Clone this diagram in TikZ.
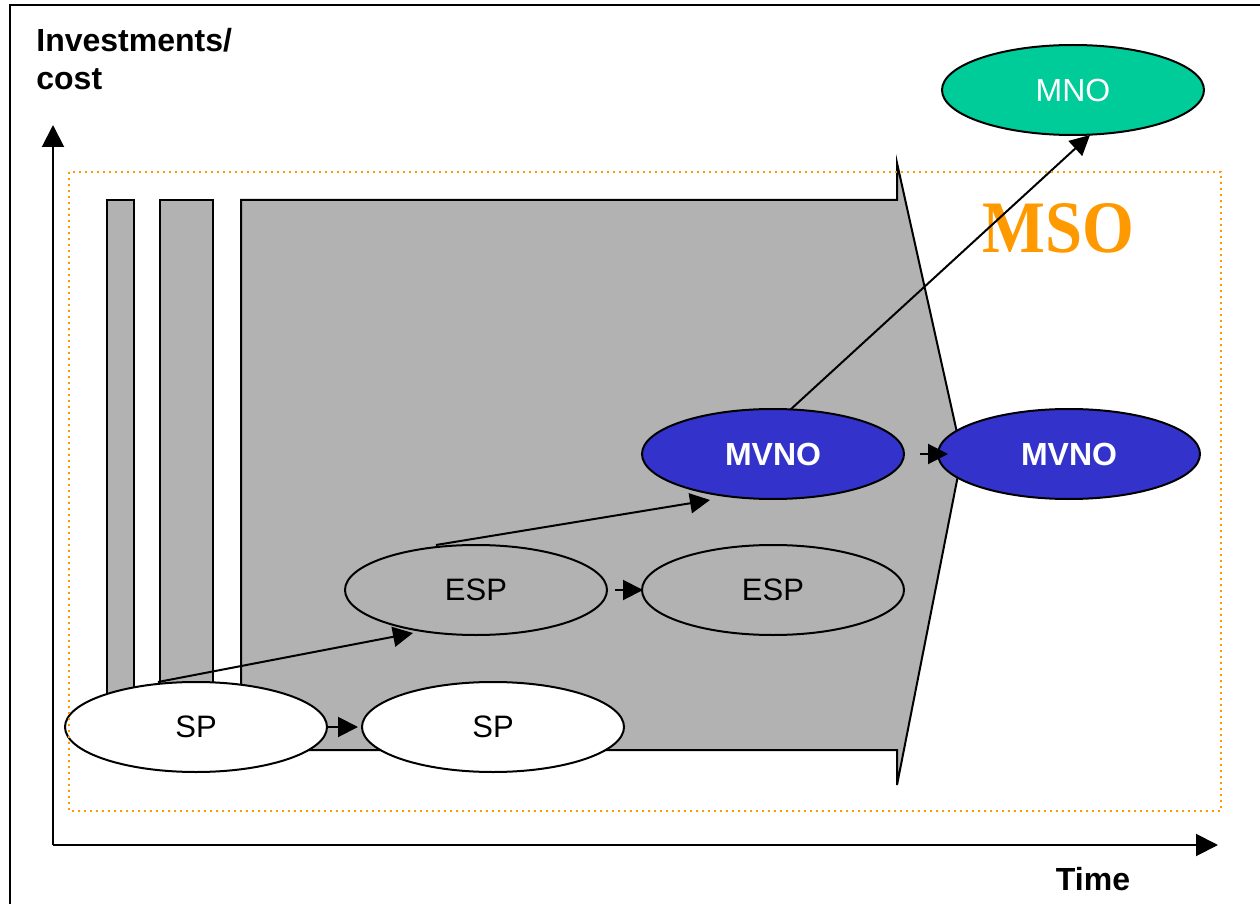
\documentclass[tikz,border=0pt]{standalone}
\usepackage{fontspec}
\setmainfont{Liberation Sans}
\newfontfamily\serifbold{Liberation Serif}
\usetikzlibrary{arrows.meta,shapes.geometric,calc}
\definecolor{greyfill}{HTML}{B2B2B2}
\definecolor{mvnoblue}{HTML}{3333CC}
\definecolor{mnogreen}{HTML}{00CC99}
\definecolor{msoorange}{HTML}{FF9900}
\tikzset{
  oval/.style={ellipse, draw=black, line width=1pt, minimum width=131pt, minimum height=45pt, inner sep=0pt, font=\fontsize{15.5}{18}\selectfont},
  whiteoval/.style={oval, fill=white},
  greyoval/.style={oval, fill=greyfill},
  blueoval/.style={oval, fill=mvnoblue, text=white, font=\fontsize{16}{18}\selectfont\bfseries},
  greenoval/.style={oval, fill=mnogreen, text=white, font=\fontsize{16}{18}\selectfont},
  conn/.style={line width=1pt, -{Triangle[length=10pt,width=10pt]}},
  axis/.style={line width=1pt, -{Triangle[length=11pt,width=11pt]}},
  greyshape/.style={fill=greyfill, draw=black, line width=1pt},
  axislabel/.style={font=\fontsize{16}{19}\selectfont\bfseries, inner sep=0pt}
}
\begin{document}
\begin{tikzpicture}[x=0.5pt,y=-0.5pt]
\useasboundingbox (0,0) rectangle (1260,904);
\fill[white] (0,0) rectangle (1260,904);
% outer frame
\draw[line width=1pt] (10,5) rectangle (1264,910);
% grey bars and big arrow shape
\draw[greyshape] (107,740) -- (107,200) -- (134,200) -- (134,740);
\draw[greyshape] (160,740) -- (160,200) -- (213,200) -- (213,740);
\draw[greyshape, line join=miter] (241,200) -- (897,200) -- (897,163) -- (962,455) -- (897,785) -- (897,750) -- (241,750) -- cycle;
% axes
\coordinate (origin) at (53,845);
\coordinate (ytip) at (53,125);
\coordinate (xtip) at (1218,845);
\draw[axis] (origin) -- (ytip);
\draw[axis] (origin) -- (xtip);
\node[axislabel, anchor=north west, align=left] (ylabel) at (36,28) {Investments/\\cost};
\node[axislabel, anchor=base] (xlabel) at (1093,890) {Time};
% ellipses
\node[whiteoval] (sp1) at (196,727) {SP};
\node[whiteoval] (sp2) at (493,727) {SP};
\node[greyoval] (esp1) at (476,590) {ESP};
\node[greyoval] (esp2) at (773,590) {ESP};
\node[blueoval] (mvno1) at (773,454) {MVNO};
\node[blueoval] (mvno2) at (1069,454) {MVNO};
\node[greenoval] (mno) at (1073,90) {MNO};
% MSO label
\node[text=msoorange, inner sep=0pt, anchor=base, xscale=0.9, font=\fontsize{37}{40}\selectfont\serifbold\bfseries] (mso) at (1058,252) {MSO};
% connectors
\draw[conn] (sp1.east) -- ($(sp2.west)+(-3,0)$);
\draw[conn] ($(esp1.east)+(7,0)$) -- ($(esp2.west)+(2,0)$);
\draw[conn] ($(mvno1.east)+(15,0)$) -- ($(mvno2.west)+(11,0)$);
\draw[conn] ($(sp1.center)+(-38,-45)$) -- ($(esp1.center)+(-63,43)$);
\draw[conn] ($(esp1.center)+(-40,-45)$) -- ($(mvno1.center)+(-63,46)$);
\draw[conn] ($(mvno1.center)+(17,-44)$) -- ($(mno.center)+(17,45)$);
% dotted orange frame
\draw[msoorange, line width=1pt, dotted] (69,172) rectangle (1221,811);
\end{tikzpicture}
\end{document}
